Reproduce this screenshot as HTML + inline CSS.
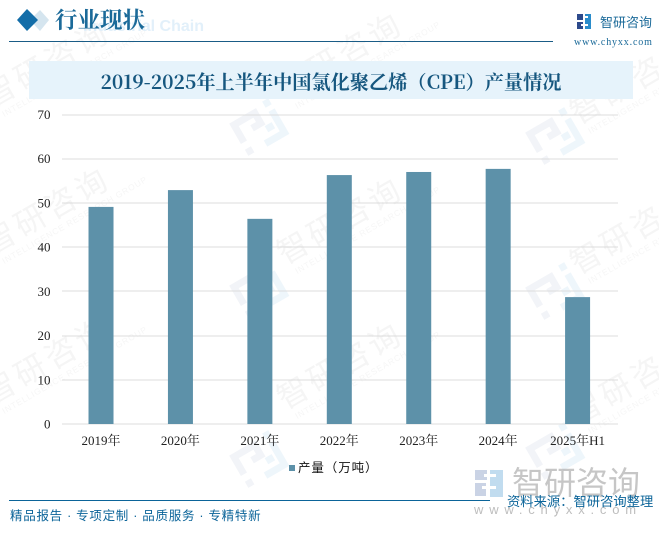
<!DOCTYPE html>
<html lang="zh">
<head>
<meta charset="utf-8">
<title>2019-2025年上半年中国氯化聚乙烯（CPE）产量情况</title>
<style>
html,body{margin:0;padding:0;background:#fff;overflow:hidden}
#page{position:relative;width:659px;height:533px;overflow:hidden;background:#fff}
svg{position:absolute;left:0;top:0;overflow:hidden}
text{font-family:"Liberation Sans","WenQuanYi Zen Hei","Noto Sans CJK SC",sans-serif}
.serif{font-family:"Liberation Serif","Noto Serif CJK SC",serif}
</style>
</head>
<body>
<div id="page">
<svg id="chart" width="659" height="533" viewBox="0 0 659 533">
  <g id="watermarks"></g>

  <g>
    <text x="204" y="31" text-anchor="end" font-size="16" font-weight="bold" fill="#e2f0fa">Industrial Chain</text>
    <polygon points="40,10 49,20 40,31 30,20" fill="#d5e5ef"></polygon>
    <polygon points="27,9 38,20 27,31 17,20" fill="#136da8"></polygon>
    <text x="55" y="28" font-size="22.5" font-weight="bold" fill="#1b6a99" style="font-family:'Noto Serif CJK SC',serif">行业现状</text>
    <rect x="9" y="41" width="544" height="1" fill="#1a5c86"></rect>
  </g>

  <g>
    <rect x="577" y="14" width="6" height="6" fill="#2d4a8c"></rect>
    <rect x="577" y="22" width="6" height="7" fill="#2d4a8c"></rect>
    <rect x="585" y="14" width="6" height="15" fill="#2a8ccb"></rect>
    <rect x="583" y="16" width="5" height="2" fill="#fff"></rect>
    <rect x="581" y="24" width="7" height="2" fill="#fff"></rect>
    <text x="600" y="27" font-size="13" fill="#1b6a99">智研咨询</text>
    <text class="serif" x="574" y="45" font-size="10" letter-spacing="0.85" fill="#1b6a99">www.chyxx.com</text>
  </g>

  <rect x="29" y="61" width="604" height="38" fill="#e6f3fb"></rect>
  <text x="331" y="89" text-anchor="middle" font-size="19.2" font-weight="bold" fill="#16577f" style="font-family:'Noto Serif CJK SC',serif">2019-2025年上半年中国氯化聚乙烯（CPE）产量情况</text>

  <g id="grid"></g>
  <g id="yaxis"></g>
  <g id="bars"></g>
  <g id="xaxis"></g>

  <g>
    <rect x="289" y="465" width="6" height="6" fill="#5d91a9"></rect>
    <text x="298" y="472" font-size="12.5" letter-spacing="0.9" fill="#111">产量（万吨）</text>
  </g>

  <g opacity="0.55">
    <rect x="475" y="470" width="12" height="10" fill="#9fb0d0"></rect>
    <rect x="475" y="483" width="11" height="13" fill="#9fb0d0"></rect>
    <rect x="490" y="470" width="13" height="27" fill="#8fc0e2"></rect>
    <rect x="484" y="474" width="12" height="3" fill="#fff"></rect>
    <rect x="482" y="486" width="14" height="3" fill="#fff"></rect>
    <text x="512" y="494" font-size="32" fill="#999">智研咨询</text>
    <text x="474" y="514" font-size="13" letter-spacing="5.8" fill="#888">www.chyxx.com</text>
  </g>

  <rect x="9" y="500" width="481" height="1" fill="#0b6499"></rect>
  <text x="507" y="506" font-size="13.3" fill="#0b6499">资料来源：智研咨询整理</text>
  <text x="10" y="520" font-size="12.5" fill="#0b6499" letter-spacing="0.72">精品报告 · 专项定制 · 品质服务 · 专精特新</text>
</svg>
</div>

<script>
var categories = ["2019年","2020年","2021年","2022年","2023年","2024年","2025年H1"];
var productionValues = [49.1,52.9,46.4,56.3,57.0,57.7,28.7];
var yTickLabels = [0,10,20,30,40,50,60,70];

var NS = "http://www.w3.org/2000/svg";
var plot = {left:62, right:618, top:114.5, bottom:424, yMax:70, barWidth:25};

function yScale(v){ return plot.bottom - (v / plot.yMax) * (plot.bottom - plot.top); }
function xBand(i){ return (plot.right - plot.left) / categories.length * (i + 0.5) + plot.left - 0.7; }

function make(tag, attrs, parent){
  var el = document.createElementNS(NS, tag);
  for (var k in attrs) el.setAttribute(k, attrs[k]);
  parent.appendChild(el);
  return el;
}

var gridG = document.getElementById("grid");
var yG = document.getElementById("yaxis");
var xG = document.getElementById("xaxis");
var barG = document.getElementById("bars");
var wmG = document.getElementById("watermarks");

yTickLabels.forEach(function(t){
  var line = make("rect", {x:plot.left, y:Math.round(yScale(t)) - 0.5, width:plot.right - plot.left, height:1, fill:"#dcdcdc"}, gridG);
  
  
  var lab = make("text", {x:50.5, y:yScale(t) + 4.5, "text-anchor":"end", "font-size":13, fill:"#222", "class":"serif"}, yG);
  
  
  lab.textContent = t;
});

categories.forEach(function(c, i){
  var v = productionValues[i];
  var bar = make("rect", {x:xBand(i) - plot.barWidth / 2, y:yScale(v), width:plot.barWidth, height:plot.bottom - yScale(v), fill:"#5d91a9"}, barG);
  
  
  var lab = make("text", {x:xBand(i), y:445, "text-anchor":"middle", "font-size":13, fill:"#222", "class":"serif"}, xG);
  
  
  lab.textContent = c;
});

function watermarkText(x, y){
  var g = make("g", {transform:"translate(" + x + " " + y + ") rotate(-30)"}, wmG);
  
  
  var a = make("text", {x:0, y:0, "font-size":31, "letter-spacing":4, fill:"#f5f5f5"}, g);
  
  
  a.textContent = "智研咨询";
  var b = make("text", {x:6, y:14, "font-size":8.5, "letter-spacing":0.8, fill:"#f6f6f6"}, g);
  
  
  b.textContent = "INTELLIGENCE RESEARCH GROUP";
}
function watermarkLogo(cx, cy){
  var g = make("g", {transform:"translate(" + cx + " " + cy + ") rotate(-30)"}, wmG);
  
  
  var a = make("path", {d:"M-22 6 V-14 H2 V-2 H-8", fill:"none", stroke:"#f2f4f8", "stroke-width":7}, g);
  
  
  var b = make("path", {d:"M-4 18 H18 V-8 M4 6 H12", fill:"none", stroke:"#eef6fb", "stroke-width":7}, g);
  
  
  var c = make("rect", {x:-25, y:13, width:7, height:7, fill:"#f2f4f8"}, g);
  
  
  var d = make("rect", {x:14, y:-20, width:7, height:7, fill:"#eef6fb"}, g);
  
  
}

[[260,126],[260,288],[260,458],[556,135],[556,290],[556,450]].forEach(function(p){ watermarkLogo(p[0], p[1]); });
[[-8,108],[-8,255],[-8,405],[285,100],[285,265],[285,410],[578,125],[578,275],[578,425]].forEach(function(p){ watermarkText(p[0], p[1]); });
</script>
</body>
</html>
